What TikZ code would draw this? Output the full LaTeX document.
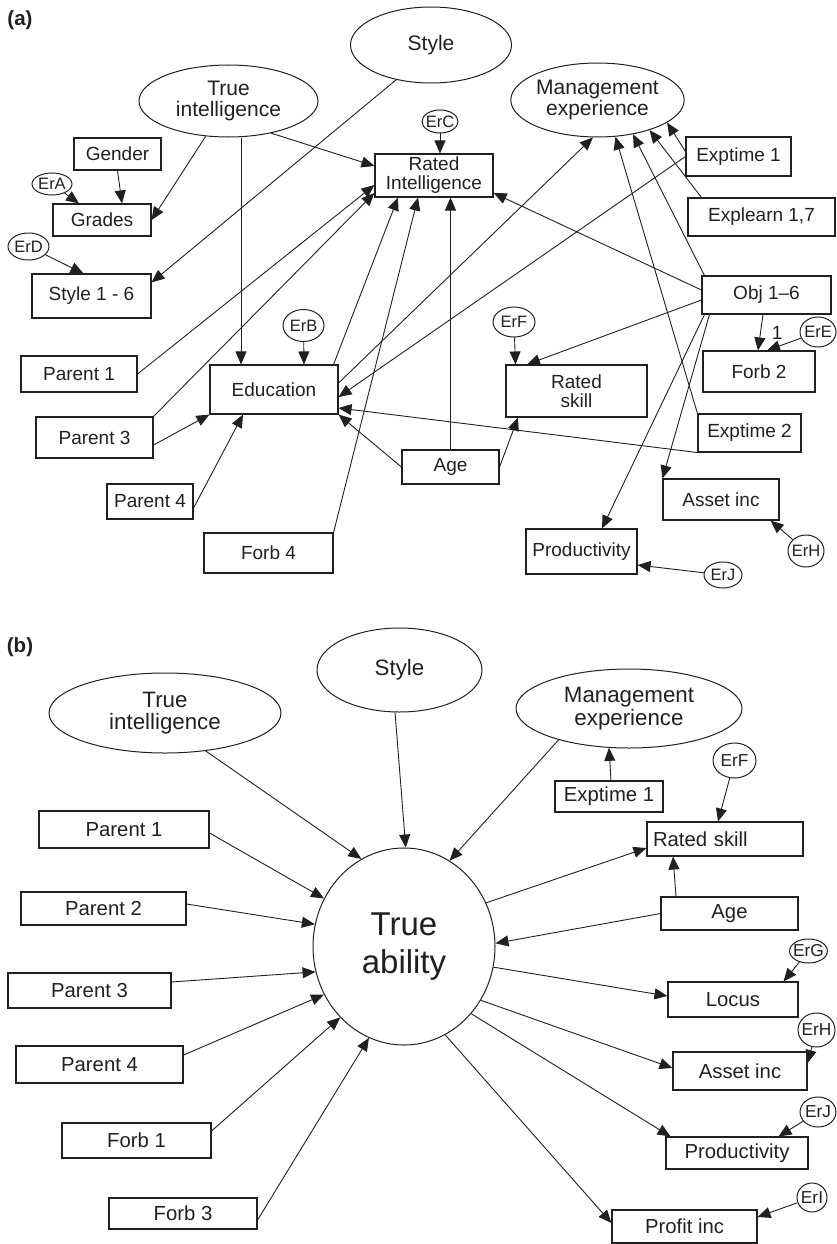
\documentclass[tikz,border=0pt]{standalone}
\usepackage{fontspec}
\setmainfont{Liberation Sans}
\usepackage{tikz}
\usetikzlibrary{arrows.meta,shapes.geometric}
\definecolor{ink}{HTML}{231F20}

\begin{document}
\begin{tikzpicture}[
  x=1pt,y=-1pt,color=ink,
  sz/.style 2 args={minimum width=#1pt,minimum height=#2pt},
  box/.style={draw,rectangle,inner sep=0pt,align=center,line width=1.1pt,font=\fontsize{19}{19}\selectfont},
  boxb/.style={box,font=\fontsize{20.3}{21}\selectfont},
  latent/.style={draw,ellipse,inner sep=0pt,align=center,line width=1pt,font=\fontsize{21}{21}\selectfont},
  latentb/.style={latent,font=\fontsize{22.3}{22.5}\selectfont},
  err/.style={draw,ellipse,inner xsep=-2pt,inner ysep=0pt,line width=1pt,font=\fontsize{16.5}{16}\selectfont},
  errb/.style={err,font=\fontsize{17.3}{17}\selectfont},
  arr/.style={-{Triangle[length=13pt,width=11pt]},line width=0.9pt},
  panel/.style={font=\fontsize{20.5}{20}\selectfont\bfseries}
]
\useasboundingbox (0,0) rectangle (836,1244);

% (a)
\node[panel] (laba) at (20,20) {(a)};
\node[latent,sz={161}{76}] (stya) at (431,45) {Style};
\node[latent,sz={179}{72}] (tia) at (228.5,101) {True\\intelligence};
\node[latent,sz={169}{74}] (mgta) at (597.5,100) {Management\\experience};
\node[box,sz={87}{32}] (gen) at (117.5,154) {Gender};
\node[err,sz={40}{22}] (era) at (52,184) {ErA};
\node[box,sz={98}{32}] (grd) at (102,220) {Grades};
\node[err,sz={41}{27}] (erd) at (28.5,246.5) {ErD};
\node[box,sz={119}{44}] (sty6) at (91.5,296) {Style 1 - 6};
\node[err,sz={36}{23}] (erc) at (440,121.5) {ErC};
\node[box,sz={118}{43}] (rint) at (434,175.5) {Rated\\Intelligence};
\node[box,sz={105}{39}] (ext1a) at (738.5,156.5) {Exptime 1};
\node[box,sz={147}{38}] (expl) at (761.5,217) {Explearn 1,7};
\node[box,sz={129}{38}] (obj) at (766.5,295) {Obj 1\textendash 6};
\node[err,sz={41}{32}] (erb) at (303.5,325.5) {ErB};
\node[err,sz={42}{30}] (erfa) at (514,322) {ErF};
\node[err,sz={36}{30}] (ere) at (818,332) {ErE};
\node[box,sz={116}{36}] (par1a) at (79,374) {Parent 1};
\node[box,sz={128}{49}] (edu) at (274,389.5) {Education};
\node[box,sz={141}{52}] (rska) at (576.5,391) {Rated\\skill};
\node[box,sz={112}{41}] (frb2) at (759,371.5) {Forb 2};
\node[box,sz={117}{41}] (par3a) at (94.5,437.5) {Parent 3};
\node[box,sz={103}{38}] (ext2) at (749.5,433) {Exptime 2};
\node[box,sz={97}{34}] (agea) at (450.5,467) {Age};
\node[box,sz={86}{35}] (par4a) at (150,501.5) {Parent 4};
\node[box,sz={116}{41}] (asta) at (721,499.5) {Asset inc};
\node[box,sz={129}{40}] (frb4) at (268.5,553) {Forb 4};
\node[box,sz={111}{45}] (prda) at (581.5,551.5) {Productivity};
\node[err,sz={36}{32}] (erha) at (806,551) {ErH};
\node[err,sz={38}{26}] (erja) at (723,575) {ErJ};

\draw[arr] (gen.south) -- ([xshift=20pt]grd.north);
\draw[arr] (era) -- ([xshift=-23pt]grd.north);
\draw[arr] (tia) -- (grd.east);
\draw[arr] ([xshift=12.5pt]tia.south) -- ([xshift=-33pt]edu.north);
\draw[arr] (tia.-37) -- ([yshift=9.5pt]rint.west);
\draw[arr] (stya.-135) -- ([yshift=-9pt]sty6.north east);
\draw[arr] (erd) -- ([xshift=-8pt]sty6.north);
\draw[arr] (erc) -- ([xshift=6pt]rint.north);
\draw[arr] (par1a.east) -- ([yshift=-9.5pt]rint.west);
\draw[arr] (par3a.north east) -- ([yshift=-17.5pt]rint.west);
\draw[arr] ([yshift=-7.5pt]par3a.east) -- (edu.south west);
\draw[arr] ([yshift=-6.5pt]par4a.east) -- ([xshift=-31pt]edu.south);
\draw[arr] (frb4.north east) -- ([xshift=-16pt]rint.south);
\draw[arr] ([xshift=-5pt]edu.north east) -- ([xshift=-36pt]rint.south);
\draw[arr] (erb) -- ([xshift=30pt]edu.north);
\draw[arr] (agea.north) -- (agea.north |- rint.south);
\draw[arr] ([yshift=6.5pt]edu.east) -- (mgta.-97);
\draw[arr] (ext1a.west) -- ([yshift=-7.5pt]edu.east);
\draw[arr] (ext2.south west) -- ([yshift=-18.5pt]edu.east);
\draw[arr] (agea.west) -- (edu.south east);
\draw[arr] (agea.east) -- ([xshift=-58.5pt]rska.south);
\draw[arr] (erfa) -- ([xshift=-61pt]rska.north);
\draw[arr] ([yshift=-5pt]obj.west) -- ([xshift=-49.5pt]rska.north);
\draw[arr] ([yshift=5pt]obj.west) -- ([yshift=-17.5pt]rint.east);
\draw[arr] ([xshift=3pt]obj.north west) -- (mgta.-44);
\draw[arr] (ext2.north west) -- (mgta.-64);
\draw[arr] ([xshift=14pt]expl.north west) -- (mgta.-30);
\draw[arr] ([yshift=-15pt]ext1a.north west) -- (mgta.-18);
\draw[arr] ([xshift=-3.5pt]obj.south) -- node[right=11pt,inner sep=0pt,font=\fontsize{19}{19}\selectfont] {1} ([xshift=-1pt]frb2.north);
\draw[arr] (ere) -- ([xshift=8pt]frb2.north);
\draw[arr] ([xshift=3pt]obj.south west) -- ([xshift=20.5pt]prda.north);
\draw[arr] ([xshift=8pt]obj.south west) -- (asta.north west);
\draw[arr] (erha) -- ([xshift=-9pt]asta.south east);
\draw[arr] (erja) -- ([yshift=-13.5pt]prda.east);

% (b)
\node[panel] (labb) at (20,647) {(b)};
\node[latentb,sz={165}{84}] (styb) at (399.5,670) {Style};
\node[latentb,sz={232}{80}] (tib) at (165,713) {True\\intelligence};
\node[latentb,sz={226}{79}] (mgtb) at (629,708.5) {Management\\experience};
\node[boxb,sz={108}{31}] (ext1b) at (609,796.5) {Exptime 1};
\node[errb,sz={43}{35}] (erfb) at (734.5,760.5) {ErF};
\node[boxb,sz={156}{34},text width=144pt,inner xsep=6pt,align=left] (rskb) at (725,839) {Rated skill};
\node[boxb,sz={137}{33}] (ageb) at (729.5,913.5) {Age};
\node[boxb,sz={170}{37}] (par1b) at (124,829.5) {Parent 1};
\node[boxb,sz={165}{33}] (par2b) at (103.5,908.5) {Parent 2};
\node[draw,ellipse,sz={182}{197},inner sep=0pt,align=center,line width=1pt,font=\fontsize{33}{38}\selectfont] (abil) at (404,946.5) {True\\ability};
\node[boxb,sz={163}{35}] (par3b) at (89.5,990.5) {Parent 3};
\node[boxb,sz={167}{37}] (par4b) at (99.5,1064.5) {Parent 4};
\node[boxb,sz={149}{35}] (frb1) at (136.5,1140.5) {Forb 1};
\node[boxb,sz={148}{31}] (frb3) at (183,1213.5) {Forb 3};
\node[errb,sz={37}{24}] (erg) at (808.5,951) {ErG};
\node[boxb,sz={130}{35}] (locus) at (733,999.5) {Locus};
\node[errb,sz={37}{34}] (erhb) at (816.5,1030) {ErH};
\node[boxb,sz={134}{38}] (astb) at (740,1071) {Asset inc};
\node[errb,sz={36}{30}] (erjb) at (818,1112) {ErJ};
\node[boxb,sz={142}{32}] (prdb) at (737,1153) {Productivity};
\node[errb,sz={30}{29}] (eri) at (812,1197.5) {ErI};
\node[boxb,sz={145}{33}] (prof) at (684.5,1226.5) {Profit inc};

\draw[arr] (tib.-43) -- (abil.116);
\draw[arr] (styb.-96) -- (abil.89);
\draw[arr] (mgtb.-156) -- (abil.62);
\draw[arr] ([xshift=2pt]ext1b.north) -- (mgtb.-117);
\draw[arr] (erfb) -- ([xshift=-7pt]rskb.north);
\draw[arr] (abil.28) -- ([yshift=-9pt]rskb.west);
\draw[arr] ([xshift=-53.5pt]ageb.north) -- ([xshift=-52pt]rskb.south);
\draw[arr] (ageb.west) -- (abil.2);
\draw[arr] (abil.-13) -- ([yshift=3.5pt]locus.west);
\draw[arr] (erg) -- ([xshift=-15pt]locus.north east);
\draw[arr] (abil.-35) -- ([yshift=3pt]astb.west);
\draw[arr] (erhb) -- ([yshift=8pt]astb.east);
\draw[arr] (abil.-45) -- ([xshift=5pt]prdb.north west);
\draw[arr] (erjb) -- ([xshift=-30pt]prdb.north east);
\draw[arr] (abil.-65) -- ([yshift=3.5pt]prof.west);
\draw[arr] (eri) -- ([yshift=9.5pt]prof.east);
\draw[arr] ([yshift=-3.5pt]par1b.east) -- (abil.149);
\draw[arr] ([yshift=4.5pt]par2b.east) -- (abil.166);
\draw[arr] ([yshift=8.5pt]par3b.east) -- (abil.196);
\draw[arr] ([yshift=9.5pt]par4b.east) -- (abil.211);
\draw[arr] ([yshift=9.5pt]frb1.east) -- (abil.228);
\draw[arr] ([yshift=-6.5pt]frb3.east) -- (abil.249);
\end{tikzpicture}
\end{document}
